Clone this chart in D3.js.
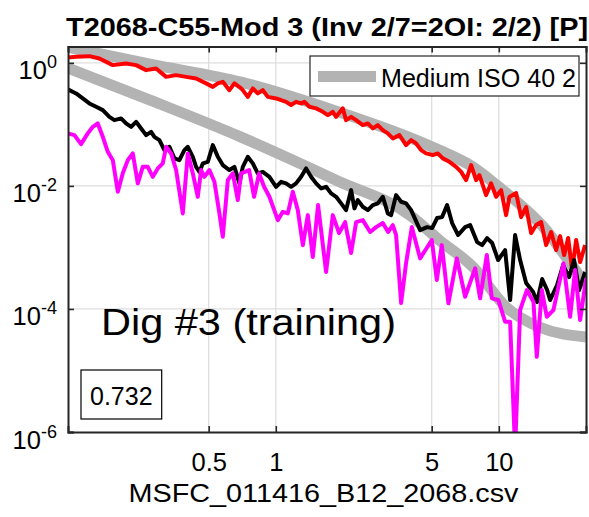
<!DOCTYPE html>
<html>
<head>
<meta charset="utf-8">
<script src="https://cdn.jsdelivr.net/npm/d3@7"></script>
<style>
  html, body { margin: 0; padding: 0; background: #fff; }
  svg { display: block; }
  text { font-family: "Liberation Sans", Arial, sans-serif; fill: #000; }
</style>
</head>
<body>
<svg id="chart" width="589" height="517"></svg>
<script>
// Reference spectrum envelope "Medium ISO 40 2" (upper and lower bounds)
const isoUpperFreq = [0.1171, 0.2731, 0.699, 1.864, 4.044, 5.398, 7.669, 10.03, 12.85, 16.30, 19.43, 24.6];
const isoUpperVal  = [1.799, 0.953, 0.486, 0.1642, 0.0598, 0.0382, 0.0202, 0.00956, 0.00452, 0.00191, 0.00081, 0.000245];
const isoLowerFreq = [0.1171, 0.2731, 0.699, 1.864, 4.044, 5.398, 7.669, 10.78, 15.16, 24.6];
const isoLowerVal  = [0.820, 0.248, 0.0621, 0.0124, 0.00323, 0.00132, 0.000479, 0.0001073, 0.0000508, 0.000035];

// Measured channel spectra
const redFreq = [0.1168, 0.1272, 0.1459, 0.1618, 0.1858, 0.2131, 0.2363, 0.2621, 0.2905, 0.3222, 0.3572, 0.3961, 0.4391, 0.487, 0.5219, 0.5495, 0.5785, 0.6193, 0.6521, 0.699,
  0.7112, 0.7487, 0.7887, 0.8303, 0.8743, 0.9207, 1.003, 1.112, 1.171, 1.233, 1.299, 1.344, 1.415, 1.516, 1.625, 1.711, 1.801, 1.864, 1.997, 2.066, 2.176, 2.292, 2.455, 2.586, 2.723, 2.867, 3.019, 3.179, 3.347, 3.583, 3.839, 4.044,
  4.257, 4.483, 4.721, 5.058, 5.327, 5.609, 6.005, 6.436, 6.777, 7.136, 7.513, 7.911, 8.185, 8.77, 9.236, 9.725, 10.24, 10.78, 11.15, 11.96, 12.59, 13.26, 13.96, 14.70, 15.48, 16.30, 17.16, 18.07, 18.83, 19.63, 20.46, 21.32, 22.22, 23.15, 24.38];
const redVal = [1.224, 1.252, 1.285, 1.179, 0.918, 0.978, 0.918, 0.761, 0.811, 0.592, 0.631, 0.592, 0.558, 0.463, 0.407, 0.463, 0.491, 0.36, 0.463, 0.384,
  0.36, 0.28, 0.384, 0.318, 0.36, 0.28, 0.264, 0.232, 0.206, 0.232, 0.219, 0.232, 0.193, 0.182, 0.16, 0.141, 0.16, 0.1327, 0.182, 0.1172, 0.1327, 0.1172, 0.0972, 0.1036, 0.0859, 0.0972, 0.0807, 0.0713, 0.0591, 0.0669, 0.046, 0.0555,
  0.049, 0.0382, 0.0337, 0.0317, 0.0337, 0.028, 0.0246, 0.0204, 0.0169, 0.0124, 0.0218, 0.0124, 0.015, 0.00709, 0.01098, 0.00665, 0.00855, 0.00335, 0.00658, 0.00764, 0.00311, 0.00452, 0.00171, 0.00231, 0.00258, 0.00109, 0.00178, 0.000906, 0.00153, 0.000751, 0.00142, 0.000429, 0.00132, 0.000578, 0.00109];

const blackFreq = [0.1168, 0.1272, 0.1363, 0.1459, 0.1564, 0.1676, 0.1794, 0.1889, 0.2024, 0.2131, 0.2245, 0.2363, 0.2489, 0.2621, 0.276, 0.2855, 0.3006, 0.3165, 0.3334, 0.351, 0.3696, 0.3891, 0.4031, 0.4244, 0.4391, 0.4544, 0.4707, 0.4955, 0.5219, 0.5495, 0.5785, 0.6193, 0.6521, 0.6868,
  0.7112, 0.7487, 0.7887, 0.8303, 0.8743, 0.9361, 1.003, 1.056, 1.112, 1.171, 1.233, 1.299, 1.367, 1.439, 1.516, 1.597, 1.681, 1.770, 1.864, 1.963, 2.066, 2.176, 2.252, 2.332, 2.455, 2.586, 2.723, 2.867, 3.019, 3.179, 3.289, 3.463, 3.647, 3.839, 4.044,
  4.437, 4.770, 5.022, 5.287, 5.568, 5.864, 6.174, 6.570, 7.063, 7.436, 7.992, 8.416, 8.862, 9.333, 9.929, 10.67, 11.24, 11.83, 12.46, 13.26, 14.25, 14.85, 15.64, 16.47, 16.98, 18.25, 19.43, 20.67, 21.76, 22.91, 24.38];
const blackVal = [0.37, 0.318, 0.264, 0.219, 0.193, 0.1704, 0.1327, 0.1172, 0.125, 0.1036, 0.0912, 0.11, 0.0859, 0.0669, 0.0757, 0.0628, 0.0555, 0.0382, 0.0432, 0.028, 0.0262, 0.0382, 0.0432, 0.0297, 0.0204, 0.0169, 0.0232, 0.0246, 0.046, 0.0297, 0.0218, 0.0181, 0.0204, 0.01098,
  0.0204, 0.0297, 0.0232, 0.016, 0.0169, 0.01405, 0.00967, 0.01166, 0.01098, 0.00967, 0.01098, 0.01405, 0.0192, 0.01405, 0.01098, 0.00911, 0.00967, 0.00755, 0.00665, 0.0052, 0.00404, 0.00855, 0.00431, 0.00588, 0.00458, 0.00404, 0.00488, 0.0052, 0.00665, 0.00357, 0.00335, 0.00709, 0.00552, 0.0052, 0.00404,
  0.00191, 0.00214, 0.00206, 0.003, 0.00311, 0.00488, 0.00249, 0.00159, 0.00214, 0.00231, 0.00122, 0.00109, 0.00142, 0.00118, 0.000623, 0.000906, 0.0001395, 0.00159, 0.000623, 0.000264, 0.000188, 0.0001295, 0.000306, 0.000203, 0.0001395, 0.000245, 0.000517, 0.00033, 0.000623, 0.000203, 0.000400];

const magentaFreq = [0.1168, 0.125, 0.1339, 0.1435, 0.1512, 0.1591, 0.1676, 0.1765, 0.1858, 0.1957, 0.206, 0.2169, 0.2284, 0.2405, 0.2532, 0.2667, 0.2808, 0.2957, 0.3113, 0.3222, 0.3393, 0.3572, 0.3828, 0.4031, 0.4244, 0.4469, 0.4624, 0.4784, 0.5038, 0.5305, 0.5586, 0.5785, 0.6092, 0.6414, 0.6755, 0.699,
  0.759, 0.7993, 0.8415, 0.8862, 0.9361, 1.021, 1.075, 1.132, 1.192, 1.255, 1.322, 1.392, 1.465, 1.547, 1.681, 1.801, 1.922, 2.045, 2.176, 2.292, 2.455, 2.648, 2.818, 3.019, 3.189, 3.347, 3.463, 3.647, 3.839, 4.073,
  4.437, 5.006, 5.272, 5.551, 5.943, 6.483, 7.063, 7.830, 8.245, 8.835, 9.303, 9.959, 10.67, 11.24, 11.83, 12.46, 13.36, 14.30, 14.80, 15.59, 16.41, 17.57, 19.49, 20.88, 21.99, 23.15, 24.63];
const magentaVal = [0.0713, 0.0669, 0.0478, 0.0713, 0.0912, 0.1036, 0.0628, 0.0358, 0.0262, 0.00802, 0.016, 0.0262, 0.0337, 0.01098, 0.0204, 0.0204, 0.01405, 0.0192, 0.0232, 0.0432, 0.0337, 0.0181, 0.00357, 0.0337, 0.016, 0.00665, 0.0181, 0.01405, 0.0181, 0.01166, 0.00357, 0.00149, 0.0124, 0.016, 0.00588, 0.016,
  0.0181, 0.00665, 0.016, 0.00967, 0.00665, 0.00278, 0.00379, 0.00357, 0.00802, 0.00404, 0.00109, 0.00335, 0.000697, 0.00488, 0.000398, 0.00335, 0.00171, 0.00258, 0.00081, 0.00258, 0.00278, 0.00178, 0.00214, 0.00249, 0.00178, 0.00231, 0.00159, 0.0001247, 0.000557, 0.00214,
  0.000664, 0.00132, 0.000295, 0.00109, 0.0001233, 0.000664, 0.0001578, 0.000457, 0.0001487, 0.000751, 0.0001487, 0.0001395, 0.0000619, 0.0000619, 0.0000005, 0.0000959, 0.000203, 0.0001309, 0.0000167, 0.000203, 0.0000747, 0.0000959, 0.000551, 0.0000747, 0.000429, 0.000066, 0.000314];

// Axis ticks
const xTicks = [0.5, 1, 5, 10];
const xTickLabels = ["0.5", "1", "5", "10"];
const yTicks = [1, 1e-2, 1e-4, 1e-6];
const yTickExponents = ["0", "-2", "-4", "-6"];
const yGrid = [1, 1e-2, 1e-4];

const titleText = "T2068-C55-Mod 3 (Inv 2/7=2OI: 2/2) [P]";
const xLabelText = "MSFC_011416_B12_2068.csv";
const legendLabel = "Medium ISO 40 2";
const digText = "Dig #3 (training)";
const scoreText = "0.732";

const plot = { left: 68, right: 586, top: 46.4, bottom: 432 };
const svg = d3.select("#chart");

const x = d3.scaleLog().domain([0.117, 24.6]).range([plot.left, plot.right]);
const y = d3.scaleLog().domain([1e-6, 1.85]).range([plot.bottom, plot.top]);

svg.append("defs").append("clipPath").attr("id", "plotClip")
  .append("rect")
  .attr("x", plot.left).attr("y", plot.top)
  .attr("width", plot.right - plot.left).attr("height", plot.bottom - plot.top);

// grid
const grid = svg.append("g");
grid.selectAll("line.vx").data(xTicks).join("line")
  .attr("x1", d => x(d)).attr("x2", d => x(d))
  .attr("y1", plot.top).attr("y2", plot.bottom)
  .attr("stroke", "#dedede").attr("stroke-width", 1.3);
grid.selectAll("line.hy").data(yGrid).join("line")
  .attr("y1", d => y(d)).attr("y2", d => y(d))
  .attr("x1", plot.left).attr("x2", plot.right)
  .attr("stroke", "#dedede").attr("stroke-width", 1.3);

// series
const series = svg.append("g").attr("clip-path", "url(#plotClip)");
function drawSeries(fs, vs, color, width, curve) {
  const pts = fs.map((f, i) => [f, vs[i]]);
  const line = d3.line().x(d => x(d[0])).y(d => y(d[1])).curve(curve);
  series.append("path").datum(pts)
    .attr("d", line)
    .attr("fill", "none")
    .attr("stroke", color)
    .attr("stroke-width", width)
    .attr("stroke-linejoin", "round")
    .attr("stroke-linecap", "butt");
}
drawSeries(isoUpperFreq, isoUpperVal, "#b3b3b3", 11, d3.curveMonotoneX);
drawSeries(isoLowerFreq, isoLowerVal, "#b3b3b3", 11, d3.curveMonotoneX);
drawSeries(redFreq, redVal, "#ff0000", 4, d3.curveLinear);
drawSeries(blackFreq, blackVal, "#000000", 4, d3.curveLinear);
drawSeries(magentaFreq, magentaVal, "#ff00ff", 4, d3.curveLinear);

// axes
const axisColor = "#262626";
const tickLen = 6;
const xAxisB = svg.append("g").attr("transform", `translate(0,${plot.bottom})`)
  .call(d3.axisBottom(x).tickValues(xTicks).tickFormat((d, i) => xTickLabels[i]).tickSize(-tickLen));
const xAxisT = svg.append("g").attr("transform", `translate(0,${plot.top})`)
  .call(d3.axisTop(x).tickValues(xTicks).tickFormat("").tickSize(-tickLen));
const yAxisL = svg.append("g").attr("transform", `translate(${plot.left},0)`)
  .call(d3.axisLeft(y).tickValues(yTicks).tickFormat("").tickSize(-tickLen));
const yAxisR = svg.append("g").attr("transform", `translate(${plot.right},0)`)
  .call(d3.axisRight(y).tickValues(yTicks).tickFormat("").tickSize(-tickLen));
[xAxisB, xAxisT, yAxisL, yAxisR].forEach(g => {
  g.select(".domain").attr("stroke", axisColor).attr("stroke-width", 2);
  g.selectAll(".tick line").attr("stroke", axisColor).attr("stroke-width", 1.6);
});
xAxisB.selectAll(".tick text")
  .attr("font-family", "Liberation Sans, Arial, sans-serif")
  .attr("font-size", 25.5).attr("fill", "#262626").attr("dy", null).attr("y", 38.5);

// y tick labels: 10 with superscript exponent
const yLab = svg.append("g");
yTicks.forEach((t, i) => {
  const tx = yLab.append("text")
    .attr("x", 57).attr("y", y(t) + 16.5)
    .attr("text-anchor", "end")
    .attr("font-size", 25.5).attr("fill", "#262626");
  tx.append("tspan").text("10");
  tx.append("tspan").attr("font-size", 18).attr("dy", -11).text(yTickExponents[i]);
});

// title
svg.append("text")
  .attr("x", (plot.left + plot.right) / 2).attr("y", 36)
  .attr("text-anchor", "middle")
  .attr("font-size", 26).attr("font-weight", "bold")
  .attr("textLength", 522).attr("lengthAdjust", "spacingAndGlyphs")
  .text(titleText);

// x label
svg.append("text")
  .attr("x", 323.5).attr("y", 502)
  .attr("text-anchor", "middle")
  .attr("font-size", 26).attr("fill", "#262626")
  .attr("textLength", 390).attr("lengthAdjust", "spacingAndGlyphs")
  .text(xLabelText);

// legend
const lg = svg.append("g");
lg.append("rect").attr("x", 310).attr("y", 56).attr("width", 269).attr("height", 40)
  .attr("fill", "#fff").attr("stroke", axisColor).attr("stroke-width", 1.2);
lg.append("line").attr("x1", 318).attr("x2", 376).attr("y1", 76.5).attr("y2", 76.5)
  .attr("stroke", "#b3b3b3").attr("stroke-width", 11);
lg.append("text").attr("x", 381).attr("y", 87).attr("font-size", 25)
  .attr("textLength", 195).attr("lengthAdjust", "spacingAndGlyphs")
  .text(legendLabel);

// annotation
svg.append("text").attr("x", 101).attr("y", 335)
  .attr("font-family", "Lato, 'Open Sans', sans-serif")
  .attr("font-size", 37)
  .attr("textLength", 295).attr("lengthAdjust", "spacingAndGlyphs")
  .text(digText);

// score box
svg.append("rect").attr("x", 81).attr("y", 370).attr("width", 80.7).attr("height", 49)
  .attr("fill", "#fff").attr("stroke", "#000").attr("stroke-width", 1.2);
svg.append("text").attr("x", 121.3).attr("y", 405).attr("text-anchor", "middle")
  .attr("font-size", 25).text(scoreText);
</script>
</body>
</html>
